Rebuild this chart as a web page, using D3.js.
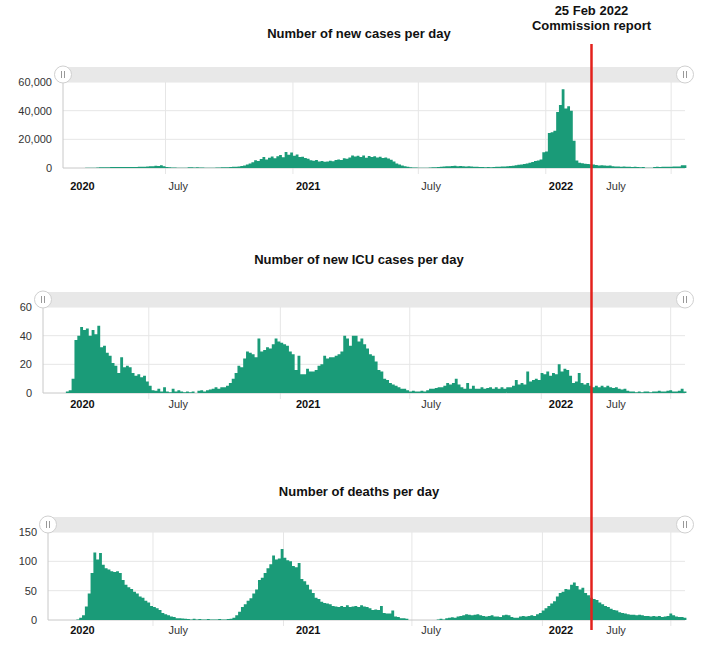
<!DOCTYPE html>
<html><head><meta charset="utf-8">
<script src="https://cdn.jsdelivr.net/npm/d3@7"></script>
<style>
body{margin:0;background:#fff}
text{font-family:"Liberation Sans",Arial,Helvetica,sans-serif}
</style>
</head><body>
<svg id="c" width="709" height="650"></svg>
<script>
// ---- data (values every 4 days, starting 2020-02-04) ----
const startDate = "2020-02-04";
const endDate = "2022-07-21";
const stepDays = 4;

const cases = [
0,0,0,0,0,0,
10,40,90,150,200,250,300,
450,500,550,600,650,650,700,650,700,650,700,700,750,700,800,800,900,
1100,1300,1200,1500,1400,1900,1200,
700,500,350,300,
150,150,100,100,
500,450,400,450,400,300,
200,200,250,250,300,350,
500,600,600,700,800,900,1000,
1400,1800,2400,3200,4000,5400,4800,6200,7700,6000,7200,8000,6800,8200,9000,7500,11100,9200,10800,8500,
9500,7700,7800,7000,6500,
5400,5000,5600,4600,4800,4400,4600,5000,4700,
5600,6000,5500,6800,6400,7400,8800,
8000,8600,7700,8800,7200,8400,7600,8200,7400,7800,7000,7300,6600,
5800,4500,3200,2500,1800,1200,800,600,
400,300,250,200,250,200,
400,500,600,700,900,1000,1200,1300,
1400,1500,1200,1400,1300,1100,1200,1000,
900,800,700,700,600,700,600,700,
800,900,1000,1100,1200,1400,1600,1900,
2200,2500,2800,3200,3600,4200,4800,5300,
6000,11000,11500,24400,25000,26000,39000,44000,55000,41500,43000,40000,19000,5300,
3600,3300,3000,2800,2600,
2400,2100,1800,2000,1700,1500,1700,1300,
1100,1000,900,1000,800,900,700,800,700,600,700,
200,150,200,
700,800,700,800,900,800,900,1000,1000,1100,1900,2000
];

const icu = [
0,0,0,0,0,0,0,0,1,2,
10,37,40,46,44,45,40,44,41,47,
32,33,28,26,21,19,14,25,18,19,
18,14,12,13,11,12,8,5,2,1.5,
3,1,4,1,0.5,3,1,2,1,0.5,
1,0.5,1,0,1.5,2,1,2,2.5,3,
4,3,4,4,5,7,10,14,19,18,
24,29,28,27,25,38,29,30,32,31,
34,38,36,35,34,33,29,27,16,26,
13,13,17,15,15,16,19,20,26,24,
25,25,26,27,29,40,38,33,40,40,
36,38,34,31,27,26,22,16,15,10,
9,7,6,5,4,3,3,2,1,1.5,
1,1,1.5,1,2,3,3,3.5,4,4,
5,7,6,7,10,6,4,3,7,3,
5,3,3,4,3,3.5,4,3,4,3,
4,3,4,4,5,9,6,7,6,15,
8,9,10,9,14,13,15,12,14,13,
20,15,17,16,12,7,8,14,7,6,
7,5,4,5,4,5,4,5,4,3.5,
4,3,2.5,3,1.5,1,1,0.5,1,0.5,
1,1,0.5,1,1,1.5,1,1,1.5,2,
1,1,1.5,3,1
];

const deaths = [
0,0,0,0,0,0,0,0,0,0,
1,4,8,23,45,80,115,103,114,94,
88,86,83,82,83,80,68,60,56,53,
48,45,40,38,33,30,24,22,20,17,
12,10,8,6,5,3,3,2.5,2,1.5,
1,2,1,1.5,1,1,1.5,1,1,1,
1.5,1,1,1.5,2,4,8,14,22,27,
33,37,45,52,68,72,80,88,95,110,
103,105,121,106,102,100,92,90,97,70,
66,60,52,46,38,36,31,29,28,27,
24,23,22,24,22,25,22,23,24,22,
25,23,22,20,17,18,17,24,12,11,
11,16,6,5,3,3,2,0,0,0,
0,0,0,0,0,0,0,1,2,1,
3,4,4.5,4,6,7,8,10,9,8,
9,10,8,7,6,7,8,6,6,5,
8,9,8,5,4,4,6,7,6,7,
8,7,10,12,16,20,24,28,32,40,
46,48,53,52,60,64,58,52,55,46,
42,38,36,34,30,27,24,22,19,17,
16,13,12,11,10,9,9,8,9,8,
7,7,6,7,6,7,5,6,7,11,
8,6,5,5,4
];

const titles = ["Number of new cases per day","Number of new ICU cases per day","Number of deaths per day"];
const yTicks = [[0,20000,40000,60000],[0,20,40,60],[0,50,100,150]];
const gridDates = ["2020-07-01","2021-01-01","2021-07-01","2022-01-01","2022-07-01"];
const xLabels = ["2020","July","2021","July","2022","July"];
const xLabelBold = [true,false,true,false,true,false];
const xLabelDates = ["2020-02-10","2020-07-01","2021-01-01","2021-07-01","2022-01-01","2022-03-25"];
const annotationLines = ["25 Feb 2022","Commission report"];
const annotationDate = "2022-03-08";

// ---- layout ----
const parse = d3.utcParse("%Y-%m-%d");
const svg = d3.select("#c");
const right = 685;
const green = "#1a9b78";
const panels = [
  {series:cases,  left:63, navTop:67,  top:82,  bottom:168, titleY:38,  labelY:190},
  {series:icu,    left:43, navTop:292, top:307, bottom:393, titleY:264, labelY:408},
  {series:deaths, left:48, navTop:517, top:532, bottom:620, titleY:496, labelY:634}
];
const t0 = parse(startDate), t1 = parse(endDate);
const fmtY = [d3.format(","), d3.format("d"), d3.format("d")];

// label axis shared across panels (uses top panel scale)
const xLabelScale = d3.scaleUtc().domain([t0,t1]).range([panels[0].left, right]);

panels.forEach((p, k) => {
  const x = d3.scaleUtc().domain([t0,t1]).range([p.left, right]);
  const ticks = yTicks[k];
  const y = d3.scaleLinear().domain([0, d3.max(ticks)]).range([p.bottom, p.top]);
  const g = svg.append("g");

  g.append("text").attr("x", 359).attr("y", p.titleY).attr("text-anchor","middle")
    .attr("font-size", 13).attr("font-weight","bold").attr("fill","#111").text(titles[k]);

  // horizontal gridlines
  g.selectAll(".hg").data(ticks.filter(v => v > 0)).join("line")
    .attr("x1", p.left).attr("x2", right)
    .attr("y1", d => y(d)).attr("y2", d => y(d))
    .attr("stroke", "#e6e6e6").attr("stroke-width", 1);

  // vertical gridlines
  g.selectAll(".vg").data(gridDates.map(parse)).join("line")
    .attr("x1", d => x(d)).attr("x2", d => x(d))
    .attr("y1", p.top).attr("y2", p.bottom + 6)
    .attr("stroke", "#e6e6e6").attr("stroke-width", 1);

  // navigator bar
  g.append("rect").attr("x", p.left).attr("y", p.navTop)
    .attr("width", right - p.left).attr("height", p.top - p.navTop)
    .attr("fill", "#e8e8e8");

  // baseline
  g.append("line").attr("x1", p.left).attr("x2", right)
    .attr("y1", y(0)).attr("y2", y(0)).attr("stroke", "#c8c8c8");

  // bars (one combined path so adjacent columns have no seams)
  const data = p.series.map((v, i) => ({v, d0: d3.utcDay.offset(t0, i*stepDays), d1: d3.utcDay.offset(t0, (i+1)*stepDays)}));
  const path = d3.path();
  data.filter(d => d.v > 0).forEach(d => {
    path.rect(x(d.d0), y(d.v), x(d.d1) - x(d.d0), y(0) - y(d.v));
  });
  g.append("path").attr("d", path.toString()).attr("fill", green);

  // y axis line
  g.append("line").attr("x1", p.left).attr("x2", p.left)
    .attr("y1", p.top).attr("y2", p.bottom).attr("stroke", "#c8c8c8");

  // y labels
  g.selectAll(".yl").data(ticks).join("text")
    .attr("x", p.left - 11).attr("y", d => y(d)).attr("dy", "0.35em")
    .attr("text-anchor", "end").attr("font-size", 11).attr("fill", "#333")
    .text(d => fmtY[k](d));

  // x labels
  g.selectAll(".xl").data(xLabels).join("text")
    .attr("x", (d, i) => xLabelScale(parse(xLabelDates[i])) + 3)
    .attr("y", p.labelY)
    .attr("font-size", 11).attr("fill", (d,i) => xLabelBold[i] ? "#111" : "#333")
    .attr("font-weight", (d, i) => xLabelBold[i] ? "bold" : "normal")
    .text(d => d);

  // navigator handles
  [p.left, right].forEach(hx => {
    const cy = (p.navTop + p.top) / 2;
    const h = g.append("g");
    h.append("circle").attr("cx", hx).attr("cy", cy).attr("r", 8.5)
      .attr("fill", "#fff").attr("stroke", "#d0d0d0").attr("stroke-width", 1);
    [-1.5, 1.5].forEach(o => h.append("line")
      .attr("x1", hx + o).attr("x2", hx + o).attr("y1", cy - 3.5).attr("y2", cy + 3.5)
      .attr("stroke", "#999").attr("stroke-width", 1));
  });
});

// annotation line (positioned with the top panel's time scale)
const ax = xLabelScale(parse(annotationDate));
svg.append("line").attr("x1", ax).attr("x2", ax).attr("y1", 44).attr("y2", 630)
  .attr("stroke", "#e3211c").attr("stroke-width", 2.5);
svg.selectAll(".ann").data(annotationLines).join("text")
  .attr("x", ax).attr("y", (d, i) => 15 + i*14.5)
  .attr("text-anchor", "middle").attr("font-size", 13).attr("font-weight", "bold")
  .attr("fill", "#111").text(d => d);
</script>
</body></html>
